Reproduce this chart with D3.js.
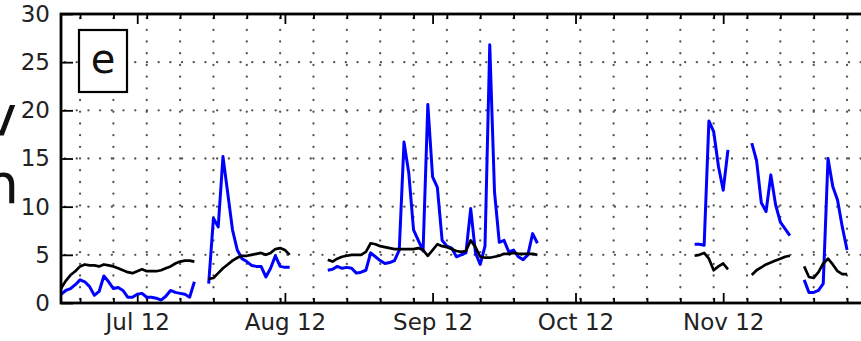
<!DOCTYPE html>
<html lang="en">

<head>
    <meta charset="UTF-8">
    <title>Panel e</title>
    <script src="https://d3js.org/d3.v7.min.js"></script>
    <style>
        body {
            margin: 0;
            background: #fff;
        }

        text {
            font-family: "DejaVu Sans", sans-serif;
        }
    </style>
</head>

<body>
    <svg width="861" height="341"></svg>

    <script>
        // daily series, split where the record has gaps; each segment starts on segStarts[i]
        const segStarts = ["2012-06-15", "2012-07-16", "2012-08-10", "2012-10-26", "2012-11-07", "2012-11-18"];

        const obs1 = [0.9, 1.3, 1.5, 1.9, 2.4, 2.2, 1.7, 0.8, 1.2, 2.8, 2.2, 1.5, 1.6, 1.3, 0.6, 0.6, 0.9, 1.0, 0.6,
            0.6, 0.5, 0.3, 0.7, 1.3, 1.1, 1.0, 0.9, 0.6, 2.2];
        const obs2 = [2.0, 8.8, 7.9, 15.2, 11.4, 7.6, 5.5, 4.6, 4.3, 3.9, 3.8, 3.8, 2.7, 3.6, 4.9, 3.8, 3.7, 3.7];
        const obs3 = [3.4, 3.5, 3.8, 3.6, 3.7, 3.6, 3.1, 3.2, 3.4, 5.2, 4.8, 4.4, 4.1, 4.2, 4.4, 5.5, 16.7, 13.5, 7.6,
            6.5, 5.4, 20.6, 13.1, 12.0, 6.5, 5.9, 5.7, 4.8, 5.0, 5.2, 9.8, 5.2, 4.0, 5.9, 26.8, 11.5, 6.3, 6.5, 5.3,
            5.5, 4.8, 4.5, 5.0, 7.2, 6.2];
        const obs4 = [6.1, 6.1, 6.0, 18.9, 17.8, 14.2, 11.7, 15.9];
        const obs5 = [16.6, 14.8, 10.4, 9.5, 13.3, 10.2, 8.4, 7.7, 7.0];
        const obs6 = [2.4, 1.1, 1.1, 1.3, 2.0, 15.0, 12.1, 10.7, 7.9, 5.5];

        const mod1 = [1.5, 2.3, 2.9, 3.3, 3.8, 4.0, 3.9, 3.9, 3.8, 4.0, 3.9, 3.8, 3.6, 3.4, 3.2, 3.1, 3.3, 3.5, 3.3,
            3.3, 3.3, 3.4, 3.6, 3.8, 4.1, 4.3, 4.4, 4.4, 4.3];
        const mod2 = [2.5, 2.6, 3.1, 3.6, 4.0, 4.4, 4.7, 4.9, 4.9, 5.0, 5.1, 5.2, 5.0, 5.2, 5.6, 5.7, 5.5, 5.0];
        const mod3 = [4.5, 4.3, 4.6, 4.8, 4.9, 5.0, 5.0, 5.0, 5.3, 6.2, 6.1, 5.9, 5.8, 5.7, 5.6, 5.6, 5.6, 5.6, 5.6,
            5.7, 5.5, 4.9, 5.5, 6.1, 5.9, 5.8, 5.6, 5.4, 5.3, 5.4, 6.5, 5.8, 4.8, 4.7, 4.7, 4.8, 4.9, 5.1, 5.1, 5.2,
            5.1, 5.1, 5.1, 5.1, 5.0];
        const mod4 = [4.9, 5.0, 5.2, 4.6, 3.4, 3.8, 4.1, 3.5];
        const mod5 = [2.9, 3.4, 3.7, 4.0, 4.2, 4.4, 4.6, 4.8, 4.9];
        const mod6 = [3.8, 2.7, 2.6, 3.2, 4.1, 4.6, 4.0, 3.3, 3.0, 3.0];

        const monthTicks = ["2012-07-01", "2012-08-01", "2012-09-01", "2012-10-01", "2012-11-01"];
        const monthLabels = ["Jul 12", "Aug 12", "Sep 12", "Oct 12", "Nov 12"];
        const yTicks = [0, 5, 10, 15, 20, 25, 30];
        const xRange = ["2012-06-15", "2012-12-01"];

        const parse = d3.utcParse("%Y-%m-%d");
        const svg = d3.select("svg");

        const plotLeft = 61, plotTop = 14, plotBottom = 303;
        const x = d3.scaleUtc()
            .domain(xRange.map(parse))
            .range([plotLeft, plotLeft + 169 * 4.764]);
        const y = d3.scaleLinear().domain([0, 30]).range([plotBottom, plotTop]);
        const plotRight = x.range()[1];

        function toPoints(vals, start) {
            const t0 = parse(start);
            return vals.map((v, i) => ({ date: d3.utcDay.offset(t0, i), v: v }));
        }

        // dotted grid: horizontal at y ticks, vertical at weekly minor ticks
        const weeks = d3.utcTuesday.range(x.domain()[0], x.domain()[1]);
        const grid = svg.append("g")
            .attr("stroke", "#555")
            .attr("stroke-width", 2.3)
            .attr("stroke-linecap", "round")
            .attr("stroke-dasharray", "0.1,11.6");
        grid.selectAll(".h").data(yTicks.slice(1, -1)).enter().append("line")
            .attr("x1", plotLeft + 4).attr("x2", plotRight)
            .attr("y1", d => y(d)).attr("y2", d => y(d));
        grid.selectAll(".v").data(weeks).enter().append("line")
            .attr("x1", d => x(d)).attr("x2", d => x(d))
            .attr("y1", plotBottom - 4).attr("y2", plotTop);

        // axes with inward ticks
        const xAxis = d3.axisBottom(x)
            .tickValues(monthTicks.map(parse))
            .tickFormat((d, i) => monthLabels[i])
            .tickSizeInner(-10).tickSizeOuter(0).tickPadding(11);
        svg.append("g").attr("transform", `translate(0,${plotBottom})`).call(xAxis);

        svg.append("g").attr("transform", `translate(0,${plotTop})`)
            .call(d3.axisTop(x).tickValues(monthTicks.map(parse)).tickFormat("")
                .tickSizeInner(-10).tickSizeOuter(0));

        svg.append("g").attr("transform", `translate(0,${plotBottom})`)
            .call(d3.axisBottom(x).tickValues(weeks).tickFormat("").tickSizeInner(-5).tickSizeOuter(0));
        svg.append("g").attr("transform", `translate(0,${plotTop})`)
            .call(d3.axisTop(x).tickValues(weeks).tickFormat("").tickSizeInner(-5).tickSizeOuter(0));

        svg.append("g").attr("transform", `translate(${plotLeft},0)`)
            .call(d3.axisLeft(y).tickValues(yTicks).tickSizeInner(-12).tickSizeOuter(0).tickPadding(11));

        svg.selectAll(".domain").remove();
        svg.selectAll(".tick line").attr("stroke", "#000").attr("stroke-width", 1.8);
        svg.selectAll(".tick text").attr("font-size", 23).attr("fill", "#222")
            .attr("font-family", "DejaVu Sans");

        // series
        const line = d3.line().x(d => x(d.date)).y(d => y(d.v));
        const obsSegs = [obs1, obs2, obs3, obs4, obs5, obs6];
        const modSegs = [mod1, mod2, mod3, mod4, mod5, mod6];

        svg.append("g").selectAll("path")
            .data(obsSegs.map((s, i) => toPoints(s, segStarts[i])))
            .enter().append("path")
            .attr("d", line)
            .attr("fill", "none")
            .attr("stroke", "#0000ff")
            .attr("stroke-width", 3)
            .attr("stroke-linejoin", "round");

        svg.append("g").selectAll("path")
            .data(modSegs.map((s, i) => toPoints(s, segStarts[i])))
            .enter().append("path")
            .attr("d", line)
            .attr("fill", "none")
            .attr("stroke", "#000")
            .attr("stroke-width", 2.7)
            .attr("stroke-linejoin", "round");

        // frame
        svg.append("rect")
            .attr("x", plotLeft).attr("y", plotTop)
            .attr("width", plotRight - plotLeft).attr("height", plotBottom - plotTop)
            .attr("fill", "none").attr("stroke", "#000").attr("stroke-width", 2.8);

        // panel letter
        svg.append("rect")
            .attr("x", 79).attr("y", 30).attr("width", 48).attr("height", 62)
            .attr("fill", "#fff").attr("stroke", "#000").attr("stroke-width", 2.2);
        svg.append("text")
            .attr("x", 103).attr("y", 73)
            .attr("text-anchor", "middle")
            .attr("font-size", 40)
            .attr("fill", "#111")
            .text("e");

        // clipped ends of the neighbouring label (cut by the image edge in the original too)
        svg.append("text").attr("x", 17).attr("y", 135)
            .attr("text-anchor", "end").attr("font-size", 56).attr("fill", "#111").text("v");
        svg.append("text").attr("x", 19).attr("y", 203)
            .attr("text-anchor", "end").attr("font-size", 56).attr("fill", "#111").text("n");
    </script>
</body>

</html>
